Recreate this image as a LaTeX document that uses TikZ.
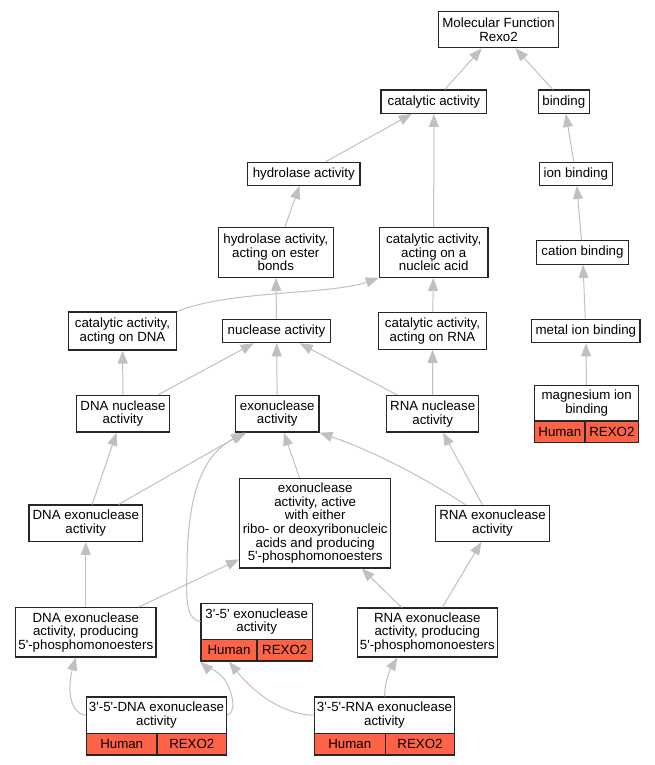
\documentclass[tikz,border=0pt]{standalone}
\usepackage{fontspec}
\setmainfont{Liberation Sans}
\usetikzlibrary{arrows.meta}
\definecolor{edgegray}{HTML}{C0C0C0}
\definecolor{tomato}{HTML}{FF6347}
\newcommand{\q}{\textquotesingle}
\tikzset{
  term/.style={draw=black!85, line width=1.2pt, fill=white, inner sep=0pt, align=center,
    font=\fontsize{13.3}{13.6}\selectfont},
  cell/.style={term, fill=tomato},
  isa/.style={draw=edgegray, line width=1pt, -{Triangle[length=13pt,width=10pt]}},
}
\begin{document}
\begin{tikzpicture}[x=1pt,y=-1pt]
  \useasboundingbox (0,0) rectangle (655,765);
  % terms
  \node[term, minimum width=120, minimum height=36] (mf) at (498.5,29.7) {Molecular Function\\Rexo2};
  \node[term, minimum width=105.7, minimum height=23.3] (cat) at (433.8,101.7) {catalytic activity};
  \node[term, minimum width=51, minimum height=23.3] (bind) at (563.8,101.7) {binding};
  \node[term, minimum width=112.3, minimum height=23] (hyd) at (303.8,173.8) {hydrolase activity};
  \node[term, minimum width=73, minimum height=23] (ion) at (575.8,173.8) {ion binding};
  \node[term, minimum width=115, minimum height=49.6] (hydest) at (275.8,252.5) {hydrolase activity,\\acting on ester\\bonds};
  \node[term, minimum width=108.7, minimum height=49.6] (catna) at (433.7,252.5) {catalytic activity,\\acting on a\\nucleic acid};
  \node[term, minimum width=91.7, minimum height=23.6] (cation) at (582.5,252.5) {cation binding};
  \node[term, minimum width=108.4, minimum height=38] (catdna) at (122.5,331) {catalytic activity,\\acting on DNA};
  \node[term, minimum width=108.4, minimum height=23.4] (nuc) at (276.5,331) {nuclease activity};
  \node[term, minimum width=108.4, minimum height=36.6] (catrna) at (432.5,331) {catalytic activity,\\acting on RNA};
  \node[term, minimum width=108.3, minimum height=23.4] (metal) at (585.8,331) {metal ion binding};
  \node[term, minimum width=92.6, minimum height=36.7] (dnanuc) at (123,413.7) {DNA nuclease\\activity};
  \node[term, minimum width=83.3, minimum height=36.7] (exo) at (277.3,413.7) {exonuclease\\activity};
  \node[term, minimum width=92, minimum height=36.3] (rnanuc) at (432.7,413.8) {RNA nuclease\\activity};
  \node[term, minimum width=104, minimum height=35.7] (mg) at (586.7,403.2) {magnesium ion\\binding};
  \node[cell, minimum width=50.3, minimum height=21.7] (mgH) at (559.85,431.85) {Human};
  \node[cell, minimum width=53.7, minimum height=21.7] (mgR) at (611.85,431.85) {REXO2};
  \node[term, minimum width=113.7, minimum height=36.3] (dnaexo) at (85.8,523.2) {DNA exonuclease\\activity};
  \node[term, minimum width=151, minimum height=89.3] (either) at (315.2,523.3) {exonuclease\\activity, active\\with either\\ribo- or deoxyribonucleic\\acids and producing\\5\q-phosphomonoesters};
  \node[term, minimum width=113.6, minimum height=36] (rnaexo) at (492.5,523.3) {RNA exonuclease\\activity};
  \node[term, minimum width=140.3, minimum height=49.3] (dnaexo5) at (85.8,632.3) {DNA exonuclease\\activity, producing\\5\q-phosphomonoesters};
  \node[term, minimum width=111.3, minimum height=35.6] (exo35) at (256.7,621.5) {3\q-5\q{} exonuclease\\activity};
  \node[cell, minimum width=56, minimum height=21.7] (exo35H) at (229,650.2) {Human};
  \node[cell, minimum width=55.3, minimum height=21.7] (exo35R) at (284.7,650.2) {REXO2};
  \node[term, minimum width=140, minimum height=49] (rnaexo5) at (427.3,632.5) {RNA exonuclease\\activity, producing\\5\q-phosphomonoesters};
  \node[term, minimum width=140.4, minimum height=36.3] (dna35) at (156.5,715.2) {3\q-5\q-DNA exonuclease\\activity};
  \node[cell, minimum width=70.7, minimum height=21.7] (dna35H) at (121.7,744.2) {Human};
  \node[cell, minimum width=69.7, minimum height=21.7] (dna35R) at (191.8,744.2) {REXO2};
  \node[term, minimum width=140.4, minimum height=36.3] (rna35) at (384.5,715.2) {3\q-5\q-RNA exonuclease\\activity};
  \node[cell, minimum width=71, minimum height=21.7] (rna35H) at (349.8,744.2) {Human};
  \node[cell, minimum width=69.4, minimum height=21.7] (rna35R) at (420,744.2) {REXO2};
  % is_a edges
  \draw[isa] (cat) -- (mf);
  \draw[isa] (bind) -- (mf);
  \draw[isa] (hyd) -- (cat);
  \draw[isa] (catna) -- (cat);
  \draw[isa] (ion) -- (bind);
  \draw[isa] (hydest) -- (hyd);
  \draw[isa] (cation) -- (ion);
  \draw[isa] (metal) -- (cation);
  \draw[isa] (catdna.north east) .. controls (230,290) and (330,295) .. (catna.south west);
  \draw[isa] (nuc) -- (hydest);
  \draw[isa] (catrna) -- (catna);
  \draw[isa] (mg) -- (metal);
  \draw[isa] (dnanuc) -- (catdna);
  \draw[isa] (dnanuc) -- (nuc);
  \draw[isa] (exo) -- (nuc);
  \draw[isa] (rnanuc) -- (nuc);
  \draw[isa] (rnanuc) -- (catrna);
  \draw[isa] (dnaexo) -- (dnanuc);
  \draw[isa] (dnaexo) -- (exo);
  \draw[isa] (either) -- (exo);
  \draw[isa] ([xshift=-27pt]rnaexo.north) .. controls (420,475) and (370,450) .. (exo.south east);
  \draw[isa] (rnaexo) -- (rnanuc);
  \draw[isa] (dnaexo5) -- (dnaexo);
  \draw[isa] (dnaexo5) -- (either);
  \draw[isa] (exo35.west) .. controls (186,619) and (186,600) .. (187,570)
    .. controls (187,500) and (200,455) .. ([xshift=-31pt]exo.south);
  \draw[isa] (rnaexo5) -- (either);
  \draw[isa] (rnaexo5) -- (rnaexo);
  \draw[isa] (dna35.west) .. controls (68,713) and (68,685) .. ([xshift=-10pt]dnaexo5.south);
  \draw[isa] (dna35.east) .. controls (236,712) and (234,695) .. (225,680)
    .. controls (215,668) and (205,666) .. (exo35H.south west);
  \draw[isa] (rna35.west) .. controls (290,715) and (260,700) .. (exo35H.south);
  \draw[isa] (rna35.north) .. controls (385,680) and (390,670) .. ([xshift=-30pt]rnaexo5.south);
\end{tikzpicture}
\end{document}
